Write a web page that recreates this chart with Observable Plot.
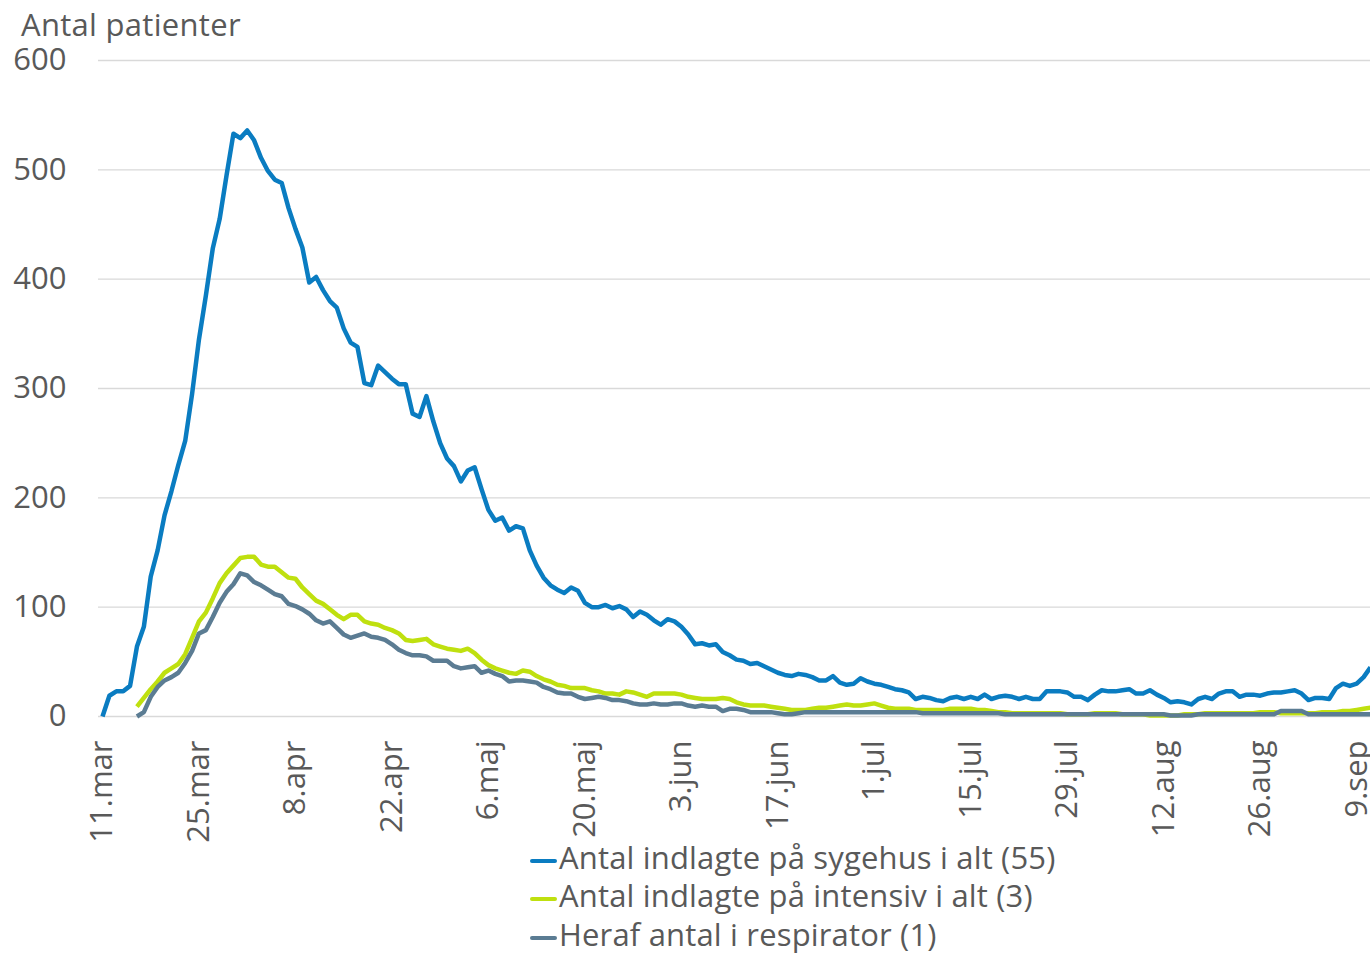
<!DOCTYPE html>
<html>
<head>
<meta charset="utf-8">
<script src="https://cdn.jsdelivr.net/npm/d3@7"></script>
<script src="https://cdn.jsdelivr.net/npm/@observablehq/plot@0.6"></script>
<style>
  html, body { margin: 0; padding: 0; background: #fff; }
  #wrap { position: relative; width: 1370px; height: 953px; overflow: hidden; font-family: "Open Sans", sans-serif; color: #595959; }
  #chart { position: absolute; left: 0; top: 0; }
  #title { position: absolute; left: 21px; top: 13px; font-size: 31px; line-height: 22px; letter-spacing: 0.3px; white-space: nowrap; }
  #legend { position: absolute; left: 528px; top: 838px; font-size: 31px; letter-spacing: 0.17px; }
  .row { position: relative; height: 38.3px; line-height: 38.3px; padding-left: 31px; white-space: nowrap; }
  .sw { position: absolute; left: 2px; top: 21px; width: 27px; height: 4px; border-radius: 2px; }
</style>
</head>
<body>
<div id="wrap">
  <div id="chart"></div>
  <div id="title">Antal patienter</div>
  <div id="legend"></div>
</div>
<script>
// ---- Data (daily values from 11 March 2020) ----
const startDay = "2020-03-11";

const sygehus = [
  0,19,23,23,28,64,82,128,152,184,
  206,230,252,295,345,385,428,455,495,533,
  529,536,527,511,499,491,488,465,446,429,
  397,402,390,380,374,355,342,338,305,303,
  321,315,309,304,304,277,274,293,270,250,
  236,229,215,225,228,208,189,179,182,170,
  174,172,152,138,127,120,116,113,118,115,
  104,100,100,102,99,101,98,91,96,93,
  88,84,89,87,82,75,66,67,65,66,
  59,56,52,51,48,49,46,43,40,38,
  37,39,38,36,33,33,37,31,29,30,
  35,32,30,29,27,25,24,22,16,18,
  17,15,14,17,18,16,18,16,20,16,
  18,19,18,16,18,16,16,23,23,23,
  22,18,18,15,20,24,23,23,24,25,
  21,21,24,20,17,13,14,13,11,16,
  18,16,21,23,23,18,20,20,19,21,
  22,22,23,24,21,15,17,17,16,26,
  30,28,30,36,45
];

const intensiv = [
  null,null,null,null,null,9,17,25,32,40,
  44,48,57,72,87,95,108,122,131,138,
  145,146,146,139,137,137,132,127,126,118,
  112,106,103,98,93,89,93,93,87,85,
  84,81,79,76,70,69,70,71,66,64,
  62,61,60,62,58,52,47,44,42,40,
  39,42,41,37,34,32,29,28,26,26,
  26,24,23,21,21,20,23,22,20,18,
  21,21,21,21,20,18,17,16,16,16,
  17,16,13,11,10,10,10,9,8,7,
  6,6,6,7,8,8,9,10,11,10,
  10,11,12,10,8,7,7,7,6,6,
  6,6,6,7,7,7,7,6,6,5,
  4,4,3,3,3,3,3,3,3,3,
  2,2,2,2,3,3,3,3,2,2,
  2,2,1,1,1,1,1,2,2,2,
  3,3,3,3,3,3,3,3,4,4,
  4,3,3,3,3,3,3,4,4,4,
  5,5,6,7,8
];

const respirator = [
  null,null,null,null,null,0,4,18,27,33,
  36,40,49,60,76,79,91,104,114,121,
  131,129,123,120,116,112,110,103,101,98,
  94,88,85,87,81,75,72,74,76,73,
  72,70,66,61,58,56,56,55,51,51,
  51,46,44,45,46,40,42,39,37,32,
  33,33,32,31,27,25,22,21,21,18,
  16,17,18,17,15,15,14,12,11,11,
  12,11,11,12,12,10,9,10,9,9,
  5,7,7,6,4,4,4,4,3,2,
  2,3,4,4,4,4,4,4,4,4,
  4,4,4,4,4,4,4,4,4,3,
  3,3,3,3,3,3,3,3,3,3,
  3,2,2,2,2,2,2,2,2,2,
  2,2,2,2,2,2,2,2,2,2,
  2,2,2,2,2,1,1,1,1,2,
  2,2,2,2,2,2,2,2,2,2,
  2,5,5,5,5,2,2,2,2,2,
  2,2,2,2,2
];

const seriesNames = [
  "Antal indlagte på sygehus i alt (55)",
  "Antal indlagte på intensiv i alt (3)",
  "Heraf antal i respirator (1)"
];
const seriesColors = ["#0a7cc1", "#bfe00f", "#5b7c93"];

const xTickDates = ["2020-03-11","2020-03-25","2020-04-08","2020-04-22","2020-05-06","2020-05-20","2020-06-03","2020-06-17","2020-07-01","2020-07-15","2020-07-29","2020-08-12","2020-08-26","2020-09-09"];
const xTickLabels = ["11.mar","25.mar","8.apr","22.apr","6.maj","20.maj","3.jun","17.jun","1.jul","15.jul","29.jul","12.aug","26.aug","9.sep"];
const yTicks = [0, 100, 200, 300, 400, 500, 600];

// ---- Build table ----
const DAY = 864e5;
const t0 = Date.parse(startDay + "T00:00:00Z");
const rows = [];
[sygehus, intensiv, respirator].forEach((arr, s) => {
  arr.forEach((v, i) => rows.push({date: new Date(t0 + i * DAY), value: v, series: seriesNames[s]}));
});
const tickDates = xTickDates.map(s => new Date(s + "T00:00:00Z"));
const labelMap = new Map(tickDates.map((d, i) => [+d, xTickLabels[i]]));

const chart = Plot.plot({
  width: 1370,
  height: 850,
  marginTop: 60,
  marginBottom: 134,
  marginLeft: 98,
  marginRight: 0,
  style: {fontFamily: "'Open Sans', sans-serif", fontSize: "31px", color: "#595959", background: "transparent", overflow: "visible"},
  x: {type: "utc", domain: [new Date(t0 - 0.58 * DAY), new Date(t0 + 184 * DAY)]},
  y: {domain: [0, 600]},
  color: {domain: seriesNames, range: seriesColors},
  marks: [
    Plot.gridY(yTicks, {stroke: "#d9d9d9", strokeOpacity: 1, strokeWidth: 1.3}),
    Plot.axisY(yTicks, {tickSize: 0, tickPadding: 32, label: null, fill: "#595959", fontSize: 31}),
    Plot.axisX(tickDates, {tickSize: 0, tickPadding: 24, tickRotate: -90, label: null, fill: "#595959", fontSize: 31,
      tickFormat: d => labelMap.get(+d)}),
    Plot.line(rows, {x: "date", y: "value", z: "series", stroke: "series", strokeWidth: 4.5,
      strokeLinejoin: "round", strokeLinecap: "butt", curve: "linear"})
  ]
});
document.getElementById("chart").appendChild(chart);

// ---- Legend ----
const legend = document.getElementById("legend");
seriesNames.forEach((name, i) => {
  const row = document.createElement("div");
  row.className = "row";
  const sw = document.createElement("span");
  sw.className = "sw";
  sw.style.background = seriesColors[i];
  row.appendChild(sw);
  row.appendChild(document.createTextNode(name));
  legend.appendChild(row);
});
</script>
</body>
</html>
